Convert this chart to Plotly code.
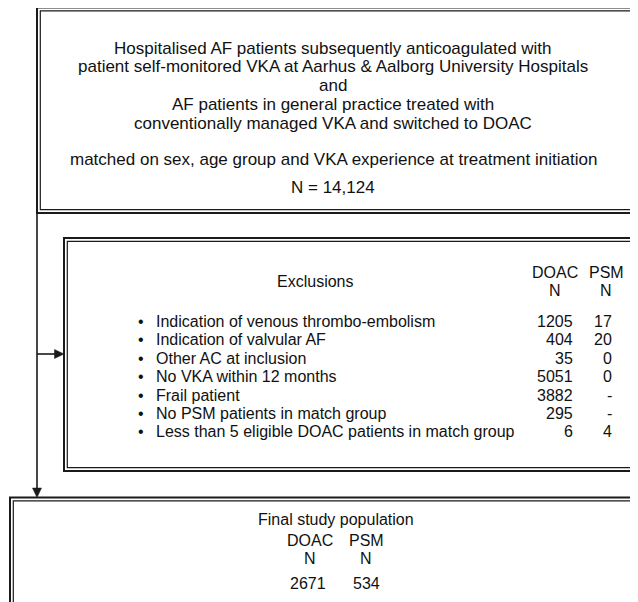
import plotly.graph_objects as go

# ---------------- data ----------------
source_lines = [
    "Hospitalised AF patients subsequently anticoagulated with",
    "patient self-monitored VKA at Aarhus & Aalborg University Hospitals",
    "and",
    "AF patients in general practice treated with",
    "conventionally managed VKA and switched to DOAC",
    "",
    "matched on sex, age group and VKA experience at treatment initiation",
    "",
]
total_n = "14,124"

group_labels = ["DOAC", "PSM"]
exclusion_title = "Exclusions"
exclusion_reasons = [
    "Indication of venous thrombo-embolism",
    "Indication of valvular AF",
    "Other AC at inclusion",
    "No VKA within 12 months",
    "Frail patient",
    "No PSM patients in match group",
    "Less than 5 eligible DOAC patients in match group",
]
exclusion_doac = ["1205", "404", "35", "5051", "3882", "295", "6"]
exclusion_psm = ["17", "20", "0", "0", "-", "-", "4"]

final_title = "Final study population"
final_counts = ["2671", "534"]

# ---------------- figure ----------------
W, H = 638, 602
OFF = 8  # page body margin
FONT = "Liberation Sans, Arial, Helvetica, sans-serif"
FS1, FS2, FS3 = 17, 16, 16
LC = "#1a1a1a"

fig = go.Figure()
shapes = []
ann = []


def dbl_box(x0, y0, x1, y1, gap=3.3):
    shapes.append(dict(type="rect", x0=x0, y0=y0, x1=x1, y1=y1,
                       line=dict(color=LC, width=2), fillcolor="rgba(0,0,0,0)"))
    shapes.append(dict(type="rect", x0=x0 + gap, y0=y0 + gap, x1=x1 - gap, y1=y1 - gap,
                       line=dict(color=LC, width=1.2), fillcolor="rgba(0,0,0,0)"))


def text(x, y, s, fs, anchor="center"):
    ann.append(dict(x=x, y=y, text=s, showarrow=False, xanchor=anchor, yanchor="middle",
                    font=dict(family=FONT, size=fs, color="#111")))


# boxes
dbl_box(37, 7.5, 720, 213)
dbl_box(64, 238, 720, 471)
dbl_box(10, 497.5, 720, 680)

# connector lines
shapes.append(dict(type="line", x0=37, y0=213, x1=37, y1=489, line=dict(color=LC, width=1.6)))
shapes.append(dict(type="line", x0=37, y0=354, x1=56, y1=354, line=dict(color=LC, width=1.6)))
# arrow heads
shapes.append(dict(type="path", path="M 32.5 488 L 41.5 488 L 37 497.5 Z",
                   fillcolor=LC, line=dict(color=LC, width=0.5)))
shapes.append(dict(type="path", path="M 54.5 349.5 L 54.5 358.5 L 64 354 Z",
                   fillcolor=LC, line=dict(color=LC, width=0.5)))

# box 1 text
y = 48
for line in source_lines:
    if line:
        text(333, y, line, FS1)
    y += 18.8 if line else 17.5
text(333, 187, "N = " + total_n, FS1)

# box 2 text
text(315, 281, exclusion_title, FS2)
text(555, 272, group_labels[0], FS2)
text(555, 290, "N", FS2)
text(606, 272, group_labels[1], FS2)
text(606, 290, "N", FS2)
row_y0, row_dy = 321.5, 18.4
for i, (r, d, p) in enumerate(zip(exclusion_reasons, exclusion_doac, exclusion_psm)):
    yy = row_y0 + i * row_dy
    text(141, yy, "•", FS2)
    text(154, yy, r, FS2, anchor="left")
    text(575, yy, d, FS2, anchor="right")
    if p == "-":
        text(609, yy, p, FS2)
    else:
        text(614, yy, p, FS2, anchor="right")

# box 3 text
text(336, 519, final_title, FS3)
text(310, 540, group_labels[0], FS3)
text(366, 540, group_labels[1], FS3)
text(310, 558, "N", FS3)
text(366, 558, "N", FS3)
text(308, 583, final_counts[0], FS3)
text(366, 583, final_counts[1], FS3)

fig.update_layout(
    width=W, height=H,
    margin=dict(l=0, r=0, t=0, b=0),
    paper_bgcolor="white", plot_bgcolor="white",
    xaxis=dict(range=[OFF, W + OFF], visible=False, fixedrange=True),
    yaxis=dict(range=[H + OFF, OFF], visible=False, fixedrange=True),
    shapes=shapes, annotations=ann, showlegend=False,
)
fig.write_html("out.html", config={"displayModeBar": False})
